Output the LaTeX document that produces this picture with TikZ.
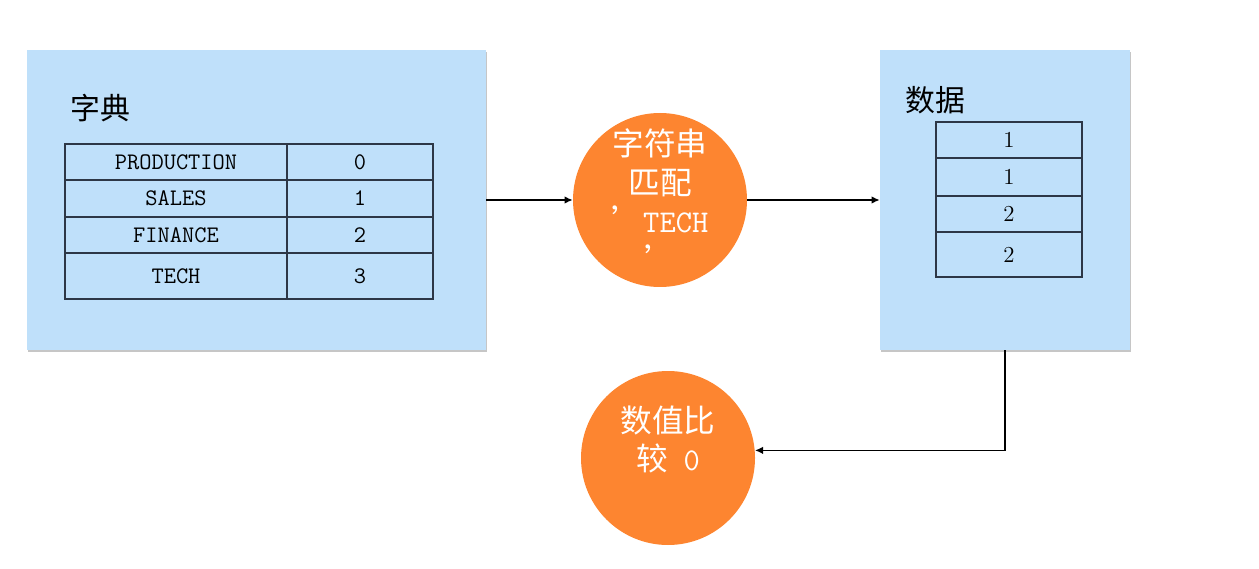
\documentclass[tikz,border=0pt]{standalone}
\usepackage{fontspec}
\newfontfamily\cjk{Noto Sans CJK SC}
\usepackage{tikz}
\usetikzlibrary{arrows.meta,positioning,shadows}
\definecolor{panelC}{RGB}{191,224,250}
\definecolor{procC}{RGB}{253,133,48}
\definecolor{lineC}{RGB}{45,55,70}
\tikzset{
  panel/.style={rectangle, fill=panelC, minimum width=#1, minimum height=6cm,
                drop shadow={shadow xshift=0.5pt, shadow yshift=-0.9pt, opacity=0.45}},
  cell/.style={rectangle, draw=lineC, line width=0.6pt, outer sep=0pt, inner sep=0pt,
               minimum width=#1, font=\ttfamily\fontsize{13.5}{15}\selectfont},
  num/.style={cell=#1, font=\fontsize{13}{15}\selectfont},
  proc/.style={circle, fill=procC, minimum size=3.48cm, inner sep=0pt, align=center,
               text=white, font=\fontsize{18}{22}\selectfont},
  ttl/.style={anchor=west, inner sep=0pt, font=\cjk\fontsize{17}{19}\selectfont},
  arr/.style={-{Latex[length=1.6mm,width=1.5mm]}, line width=0.8pt},
}
\begin{document}
\begin{tikzpicture}
  \useasboundingbox (0,0) rectangle (25.18,-11.38);
        \node[panel=9.18cm] (dict) at (5.13,-4.00) {};
        \node[panel=5.00cm] (data) at (20.10,-4.00) {};
        \node[ttl] (dictT) at (1.40,-2.16) {字典};
        \node[ttl] (dataT) at (18.10,-2.00) {数据};

        \node[cell=4.44cm, minimum height=0.72cm, anchor=north west] (k1) at (1.30,-2.88) {PRODUCTION};
        \node[cell=4.44cm, minimum height=0.74cm, below=0pt of k1] (k2) {SALES};
        \node[cell=4.44cm, minimum height=0.72cm, below=0pt of k2] (k3) {FINANCE};
        \node[cell=4.44cm, minimum height=0.92cm, below=0pt of k3] (k4) {TECH};
        \node[cell=2.92cm, minimum height=0.72cm, right=0pt of k1] (v1) {0};
        \node[cell=2.92cm, minimum height=0.74cm, right=0pt of k2] (v2) {1};
        \node[cell=2.92cm, minimum height=0.72cm, right=0pt of k3] (v3) {2};
        \node[cell=2.92cm, minimum height=0.92cm, right=0pt of k4] (v4) {3};

        \node[num=2.92cm, minimum height=0.72cm, anchor=north west] (d1) at (18.72,-2.44) {1};
        \node[num=2.92cm, minimum height=0.76cm, below=0pt of d1] (d2) {1};
        \node[num=2.92cm, minimum height=0.72cm, below=0pt of d2] (d3) {2};
        \node[num=2.92cm, minimum height=0.90cm, below=0pt of d3] (d4) {2};

        \node[proc] (match) at (13.20,-4.00)
          {{\cjk 字符串}\\{\cjk 匹配}\\{\cjk ’}{\ttfamily TECH}\\{\cjk ’}};
        \node[proc] (cmp) at (13.36,-9.16)
          {{\cjk 数值比}\\{\cjk 较}\enspace{\ttfamily 0}\\[-6pt]\strut};

        \draw[arr] (dict) -- (match);
        \draw[arr] (match) -- (data);
        \draw[arr] (data) |- (cmp.5);
\end{tikzpicture}
\end{document}
